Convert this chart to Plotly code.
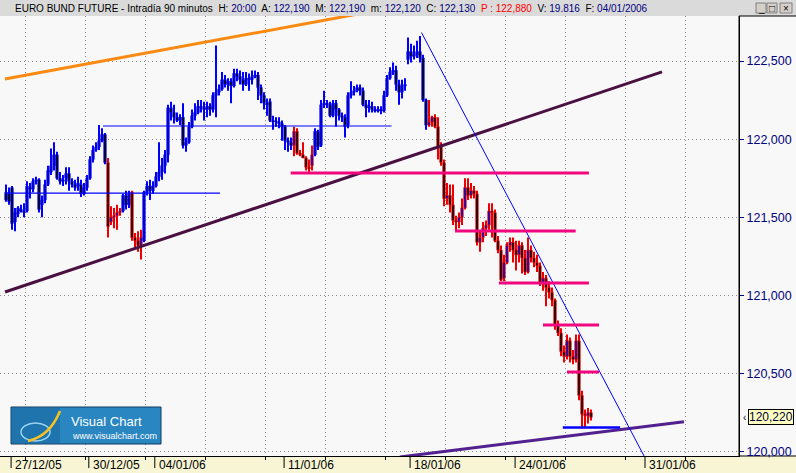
import plotly.graph_objects as go

# ---------------- data (EURO BUND FUTURE, 90-minute bars) ----------------
open_ = [121.66, 121.65, 121.69, 121.47, 121.52, 121.55, 121.54, 121.54, 121.69, 121.68,
         121.73, 121.74, 121.58, 121.61, 121.71, 121.79, 121.83, 121.90, 121.75, 121.73,
         121.75, 121.78, 121.73, 121.71, 121.70, 121.71, 121.65, 121.69, 121.75, 121.87,
         121.93, 121.95, 121.99, 122.03, 121.85, 121.47, 121.50, 121.51, 121.53, 121.54,
         121.64, 121.58, 121.66, 121.37, 121.35, 121.32, 121.35, 121.66, 121.70, 121.67,
         121.70, 121.76, 121.79, 121.83, 121.90, 122.20, 122.17, 122.14, 122.12, 122.14,
         121.96, 121.98, 122.08, 122.15, 122.17, 122.21, 122.20, 122.19, 122.21, 122.19,
         122.28, 122.30, 122.32, 122.38, 122.35, 122.37, 122.34, 122.42, 122.40, 122.38,
         122.35, 122.39, 122.38, 122.40, 122.41, 122.33, 122.28, 122.23, 122.24, 122.12,
         122.11, 122.11, 122.10, 122.08, 121.99, 121.98, 121.96, 122.05, 121.91, 121.90,
         121.88, 121.82, 121.83, 121.90, 122.05, 121.96, 122.22, 122.23, 122.22, 122.15,
         122.23, 122.19, 122.15, 122.14, 122.09, 122.28, 122.30, 122.31, 122.33, 122.31,
         122.22, 122.20, 122.21, 122.19, 122.18, 122.19, 122.18, 122.28, 122.39, 122.43,
         122.44, 122.35, 122.30, 122.34, 122.51, 122.56, 122.53, 122.54, 122.56, 122.52,
         122.25, 122.09, 122.11, 122.14, 122.08, 121.95, 121.85, 121.62, 121.64, 121.58,
         121.48, 121.47, 121.50, 121.56, 121.69, 121.64, 121.67, 121.65, 121.34, 121.37,
         121.43, 121.45, 121.54, 121.53, 121.35, 121.29, 121.11, 121.21, 121.32, 121.34,
         121.29, 121.26, 121.32, 121.24, 121.15, 121.29, 121.24, 121.21, 121.19, 121.08,
         121.11, 121.05, 121.02, 120.97, 120.81, 120.76, 120.64, 120.61, 120.71, 120.61,
         120.59, 120.71, 120.36, 120.24, 120.23, 120.25]
high_ = [121.71, 121.69, 121.70, 121.56, 121.57, 121.58, 121.59, 121.73, 121.72, 121.75,
         121.76, 121.75, 121.64, 121.74, 121.83, 121.94, 121.98, 121.92, 121.79, 121.77,
         121.82, 121.82, 121.75, 121.74, 121.76, 121.74, 121.72, 121.77, 121.89, 121.96,
         121.98, 122.09, 122.07, 122.04, 121.88, 121.57, 121.56, 121.58, 121.56, 121.65,
         121.67, 121.67, 121.67, 121.40, 121.41, 121.42, 121.67, 121.73, 121.74, 121.73,
         121.79, 121.98, 121.88, 121.93, 122.22, 122.24, 122.22, 122.17, 122.16, 122.23,
         122.01, 122.11, 122.19, 122.23, 122.25, 122.25, 122.24, 122.24, 122.23, 122.30,
         122.60, 122.35, 122.43, 122.41, 122.39, 122.39, 122.45, 122.45, 122.44, 122.43,
         122.43, 122.42, 122.44, 122.44, 122.43, 122.35, 122.30, 122.26, 122.26, 122.15,
         122.14, 122.14, 122.12, 122.09, 122.01, 122.01, 122.08, 122.07, 121.93, 121.98,
         121.89, 121.87, 121.96, 122.07, 122.06, 122.25, 122.31, 122.25, 122.24, 122.25,
         122.25, 122.20, 122.17, 122.16, 122.30, 122.37, 122.34, 122.35, 122.35, 122.33,
         122.25, 122.25, 122.24, 122.21, 122.21, 122.21, 122.31, 122.41, 122.46, 122.49,
         122.47, 122.38, 122.38, 122.39, 122.65, 122.61, 122.60, 122.63, 122.66, 122.54,
         122.26, 122.25, 122.15, 122.16, 122.14, 121.98, 121.87, 121.72, 121.71, 121.71,
         121.51, 121.53, 121.62, 121.75, 121.75, 121.72, 121.70, 121.67, 121.41, 121.47,
         121.48, 121.59, 121.59, 121.55, 121.38, 121.32, 121.26, 121.34, 121.37, 121.37,
         121.35, 121.35, 121.34, 121.29, 121.37, 121.32, 121.28, 121.26, 121.21, 121.15,
         121.13, 121.09, 121.05, 120.98, 120.84, 120.79, 120.68, 120.75, 120.73, 120.65,
         120.75, 120.75, 120.39, 120.27, 120.28, 120.27]
low_ = [121.60, 121.58, 121.42, 121.41, 121.50, 121.53, 121.50, 121.53, 121.62, 121.66,
        121.71, 121.53, 121.50, 121.59, 121.70, 121.77, 121.80, 121.74, 121.71, 121.70,
        121.71, 121.67, 121.69, 121.67, 121.67, 121.63, 121.64, 121.67, 121.74, 121.85,
        121.92, 121.93, 121.98, 121.84, 121.37, 121.45, 121.43, 121.42, 121.51, 121.53,
        121.55, 121.56, 121.35, 121.30, 121.28, 121.23, 121.34, 121.64, 121.61, 121.65,
        121.69, 121.73, 121.74, 121.78, 121.85, 122.12, 122.10, 122.11, 122.09, 121.94,
        121.92, 121.97, 122.07, 122.12, 122.16, 122.17, 122.12, 122.14, 122.15, 122.17,
        122.14, 122.28, 122.31, 122.33, 122.31, 122.23, 122.33, 122.37, 122.35, 122.31,
        122.34, 122.31, 122.35, 122.39, 122.25, 122.23, 122.19, 122.15, 122.11, 122.06,
        122.08, 122.07, 121.99, 121.93, 121.92, 121.93, 121.89, 121.90, 121.89, 121.88,
        121.80, 121.79, 121.80, 121.89, 121.93, 121.95, 122.20, 122.20, 122.14, 122.14,
        122.08, 122.12, 122.11, 122.01, 122.07, 122.26, 122.28, 122.30, 122.28, 122.21,
        122.14, 122.17, 122.17, 122.17, 122.17, 122.16, 122.17, 122.27, 122.38, 122.41,
        122.31, 122.22, 122.26, 122.31, 122.48, 122.49, 122.51, 122.52, 122.49, 122.24,
        122.06, 122.08, 122.08, 122.07, 121.87, 121.83, 121.57, 121.58, 121.53, 121.45,
        121.41, 121.43, 121.45, 121.55, 121.61, 121.62, 121.62, 121.32, 121.28, 121.34,
        121.38, 121.42, 121.37, 121.34, 121.27, 121.09, 121.09, 121.20, 121.28, 121.21,
        121.16, 121.21, 121.14, 121.13, 121.14, 121.21, 121.18, 121.15, 121.06, 121.03,
        120.93, 120.98, 120.93, 120.78, 120.74, 120.61, 120.57, 120.59, 120.57, 120.56,
        120.57, 120.33, 120.15, 120.15, 120.18, 120.20]
close_ = [121.61, 121.60, 121.46, 121.53, 121.56, 121.54, 121.53, 121.70, 121.68, 121.73,
          121.74, 121.55, 121.61, 121.71, 121.80, 121.83, 121.90, 121.75, 121.73, 121.74,
          121.78, 121.73, 121.71, 121.69, 121.72, 121.65, 121.69, 121.75, 121.87, 121.93,
          121.95, 121.99, 122.03, 121.85, 121.44, 121.50, 121.51, 121.53, 121.54, 121.64,
          121.58, 121.65, 121.37, 121.35, 121.32, 121.37, 121.66, 121.70, 121.67, 121.70,
          121.76, 121.79, 121.83, 121.90, 122.20, 122.17, 122.14, 122.12, 122.14, 121.96,
          121.98, 122.08, 122.15, 122.17, 122.21, 122.20, 122.19, 122.21, 122.19, 122.28,
          122.30, 122.32, 122.38, 122.35, 122.37, 122.34, 122.42, 122.40, 122.38, 122.35,
          122.39, 122.38, 122.40, 122.41, 122.33, 122.28, 122.23, 122.22, 122.12, 122.11,
          122.11, 122.10, 122.08, 121.99, 121.98, 121.96, 122.05, 121.91, 121.90, 121.88,
          121.82, 121.81, 121.90, 122.05, 121.95, 122.22, 122.23, 122.22, 122.15, 122.23,
          122.19, 122.15, 122.14, 122.08, 122.28, 122.30, 122.31, 122.33, 122.31, 122.22,
          122.20, 122.21, 122.19, 122.18, 122.19, 122.18, 122.28, 122.39, 122.43, 122.44,
          122.35, 122.30, 122.34, 122.35, 122.56, 122.53, 122.54, 122.56, 122.52, 122.25,
          122.09, 122.11, 122.14, 122.08, 121.95, 121.85, 121.62, 121.64, 121.58, 121.48,
          121.47, 121.50, 121.56, 121.69, 121.64, 121.67, 121.65, 121.34, 121.37, 121.43,
          121.45, 121.54, 121.53, 121.35, 121.29, 121.10, 121.21, 121.32, 121.34, 121.29,
          121.26, 121.32, 121.24, 121.15, 121.29, 121.24, 121.21, 121.19, 121.08, 121.11,
          121.05, 121.02, 120.97, 120.81, 120.76, 120.64, 120.61, 120.71, 120.61, 120.59,
          120.71, 120.36, 120.24, 120.23, 120.25, 120.22]
# bar-index ranges whose candles are drawn in red
red_segments = [[34, 38], [42, 45], [96, 102], [141, 195]]

date_labels = ["27/12/05", "30/12/05", "04/01/06", "11/01/06", "18/01/06", "24/01/06", "31/01/06"]
date_positions = [1.7, 27.6, 49.6, 92.7, 134.7, 169.7, 213.0]
grid_positions = [6.5, 26.5, 46.5, 66.5, 86.5, 106.5, 126.5, 146.5, 166.5, 186.5, 206.5, 226.5]
y_ticks = [120.0, 120.5, 121.0, 121.5, 122.0, 122.5]
last_price = 120.22

# hand-drawn studies (bar index, price)
orange_x = [-0.33, 120.0]
orange_y = [122.385, 122.810]
support_x = [-0.33, 218.67]
support_y = [121.022, 122.430]
bottom_x = [131.3, 226.0]
bottom_y = [119.966, 120.192]
falling_x = [138.5, 214.67]
falling_y = [122.682, 119.900]
blue_x0 = [32.33, -0.33]
blue_x1 = [128.5, 71.33]
blue_y = [122.084, 121.655]
base_x0 = [185.6]
base_x1 = [204.7]
base_y = [120.155]
pink_x0 = [94.9, 149.67, 164.3, 179.0, 187.0]
pink_x1 = [194.3, 189.9, 194.3, 197.67, 197.67]
pink_y = [121.783, 121.412, 121.079, 120.811, 120.510]

# ---------------- figure ----------------
W, H = 796, 473
ML, MR, MT, MB = 0, 57, 16, 17
PW, PH = W - ML - MR, H - MT - MB
FONT = "Liberation Sans, Arial, sans-serif"
NAVY = "#000080"
BLUE = "#0000ff"
RED = "#ee0000"
PINK = "#f2067f"


def px(p):  # pixel x -> paper x
    return (p - ML) / PW


def py(p):  # pixel y -> paper y
    return (H - MB - p) / PH


n = len(close_)
idx = list(range(n))
is_red = [any(a <= i <= b for a, b in red_segments) for i in idx]
edge_col = [RED if r else BLUE for r in is_red]
fill_col = ["#0000c0" if c > o else "#000000" for o, c in zip(open_, close_)]
body_base = [min(o, c) for o, c in zip(open_, close_)]
body_h = [max(abs(c - o), 0.005) for o, c in zip(open_, close_)]

fig = go.Figure()
# wicks
fig.add_trace(go.Bar(x=idx, y=[h - l for h, l in zip(high_, low_)], base=low_, width=0.34,
                     marker=dict(color=edge_col, line=dict(width=0)), hoverinfo="skip"))
# bodies
fig.add_trace(go.Bar(x=idx, y=body_h, base=body_base, width=0.78,
                     marker=dict(color=fill_col, line=dict(color=edge_col, width=0.8)),
                     hoverinfo="skip"))


def seg(xs, ys, color, width):
    fig.add_trace(go.Scatter(x=xs, y=ys, mode="lines", line=dict(color=color, width=width),
                             hoverinfo="skip"))


seg(orange_x, orange_y, "#fb8a12", 3)
seg(support_x, support_y, "#4a1042", 3)
seg(bottom_x, bottom_y, "#52208f", 3)
seg(falling_x, falling_y, BLUE, 1)
for a, b, v in zip(blue_x0, blue_x1, blue_y):
    seg([a, b], [v, v], BLUE, 1.2)
for a, b, v in zip(base_x0, base_x1, base_y):
    seg([a, b], [v, v], BLUE, 2.5)
for a, b, v in zip(pink_x0, pink_x1, pink_y):
    seg([a, b], [v, v], PINK, 3)

shapes = []
# title bar
shapes.append(dict(type="rect", xref="paper", yref="paper", x0=px(0), x1=px(W), y0=py(16), y1=py(0),
                   fillcolor="#dadada", line=dict(width=0), layer="below"))
# right price panel
shapes.append(dict(type="rect", xref="paper", yref="paper", x0=px(739), x1=px(W + 2), y0=py(456), y1=py(16),
                   fillcolor="#f8f8f8", line=dict(color="#000000", width=1), layer="below"))
# window buttons
for x0, x1 in [(756, 766), (767, 777), (780, 792)]:
    shapes.append(dict(type="rect", xref="paper", yref="paper", x0=px(x0), x1=px(x1), y0=py(13), y1=py(3),
                       fillcolor="#d4d0c8", line=dict(color="#808080", width=1)))
# date tick marks in the time band
for d in date_positions:
    shapes.append(dict(type="line", xref="x", yref="paper", x0=d, x1=d, y0=py(456), y1=py(468),
                       line=dict(color="#000000", width=1)))
# Visual Chart logo
shapes.append(dict(type="rect", xref="paper", yref="paper", x0=px(11), x1=px(161), y0=py(444), y1=py(407),
                   fillcolor="#2a86c1", line=dict(color="#0d3a5e", width=1)))
shapes.append(dict(type="rect", xref="paper", yref="paper", x0=px(12), x1=px(60), y0=py(443), y1=py(408),
                   fillcolor="#1f74ad", line=dict(width=0)))
shapes.append(dict(type="circle", xref="paper", yref="paper", x0=px(21), x1=px(50), y0=py(441), y1=py(423),
                   line=dict(color="#9ad4f2", width=1.5)))
shapes.append(dict(type="path", xref="paper", yref="paper",
                   path=f"M {px(28)},{py(441)} Q {px(50)},{py(436)} {px(60)},{py(411)}",
                   line=dict(color="#f3c224", width=2.5)))

annotations = []
title_html = ("EURO BUND FUTURE - Intradía 90 minutos&nbsp; H: <span style='color:#000080'>20:00</span>"
              "&nbsp; A: <span style='color:#000080'>122,190</span>"
              "&nbsp; M: <span style='color:#000080'>122,190</span>"
              "&nbsp; m: <span style='color:#000080'>122,120</span>"
              "&nbsp; C: <span style='color:#000080'>122,130</span>"
              "&nbsp; <span style='color:#ff0000'>P : 122,880</span>"
              "&nbsp; V: <span style='color:#000080'>19.816</span>"
              "&nbsp; F: <span style='color:#000080'>04/01/2006</span>")
annotations.append(dict(xref="paper", yref="paper", x=px(13), y=py(8.5), xanchor="left", yanchor="middle",
                        text=title_html, showarrow=False, font=dict(family=FONT, size=10, color="#000000")))
for glyph, cx in [("_", 761), ("□", 772), ("×", 786)]:
    annotations.append(dict(xref="paper", yref="paper", x=px(cx), y=py(8), xanchor="center", yanchor="middle",
                            text=glyph, showarrow=False, font=dict(family=FONT, size=10, color="#000000")))
for d, lab in zip(date_positions, date_labels):
    annotations.append(dict(xref="x", yref="paper", x=d, y=py(465), xanchor="left", yanchor="middle",
                            xshift=2, text=lab, showarrow=False,
                            font=dict(family=FONT, size=12, color="#000000")))
annotations.append(dict(xref="paper", yref="y", x=px(748), y=last_price, xanchor="left", yanchor="middle",
                        text=f"{last_price:.3f}".replace(".", ","), showarrow=False,
                        bgcolor="#ffffc0", bordercolor="#000000", borderwidth=1, borderpad=0,
                        font=dict(family=FONT, size=12, color="#000040")))
annotations.append(dict(xref="paper", yref="y", x=px(741), y=last_price, xanchor="left", yanchor="middle",
                        text="‹", showarrow=False, font=dict(family=FONT, size=10, color="#000000")))
annotations.append(dict(xref="paper", yref="paper", x=px(69), y=py(421), xanchor="left", yanchor="middle",
                        text="Visual Chart", showarrow=False, font=dict(family=FONT, size=13, color="#ffffff")))
annotations.append(dict(xref="paper", yref="paper", x=px(70), y=py(436), xanchor="left", yanchor="middle",
                        text="www.visualchart.com", showarrow=False,
                        font=dict(family=FONT, size=9, color="#ffffff")))

fig.update_layout(
    width=W, height=H, margin=dict(l=ML, r=MR, t=MT, b=MB),
    paper_bgcolor="#f7f5d3", plot_bgcolor="#f8f8f8",
    barmode="overlay", showlegend=False, separators=",.",
    font=dict(family=FONT, size=12, color="#000000"),
    shapes=shapes, annotations=annotations,
    xaxis=dict(range=[-2, (PW - 6) / 3], tickvals=grid_positions, showticklabels=False,
               ticks="outside", ticklen=3, tickcolor="#000000",
               showgrid=True, gridcolor="#8a8a8a", griddash="1px,3px", gridwidth=1,
               zeroline=False, showline=True, linecolor="#000000", linewidth=1, fixedrange=True),
    yaxis=dict(side="right", range=[119.9725, 122.788], tickvals=y_ticks, tickformat=".3f",
               ticks="outside", ticklen=4, tickcolor=NAVY,
               tickfont=dict(family=FONT, size=12.5, color=NAVY),
               showgrid=True, gridcolor="#8a8a8a", griddash="1px,3px", gridwidth=1,
               zeroline=False, showline=True, linecolor="#000000", linewidth=1, fixedrange=True),
)

fig.write_html("out.html", config={"displayModeBar": False},
               post_script="document.body.style.margin='0';document.body.style.padding='0';"
                           "document.documentElement.style.overflow='hidden';")
